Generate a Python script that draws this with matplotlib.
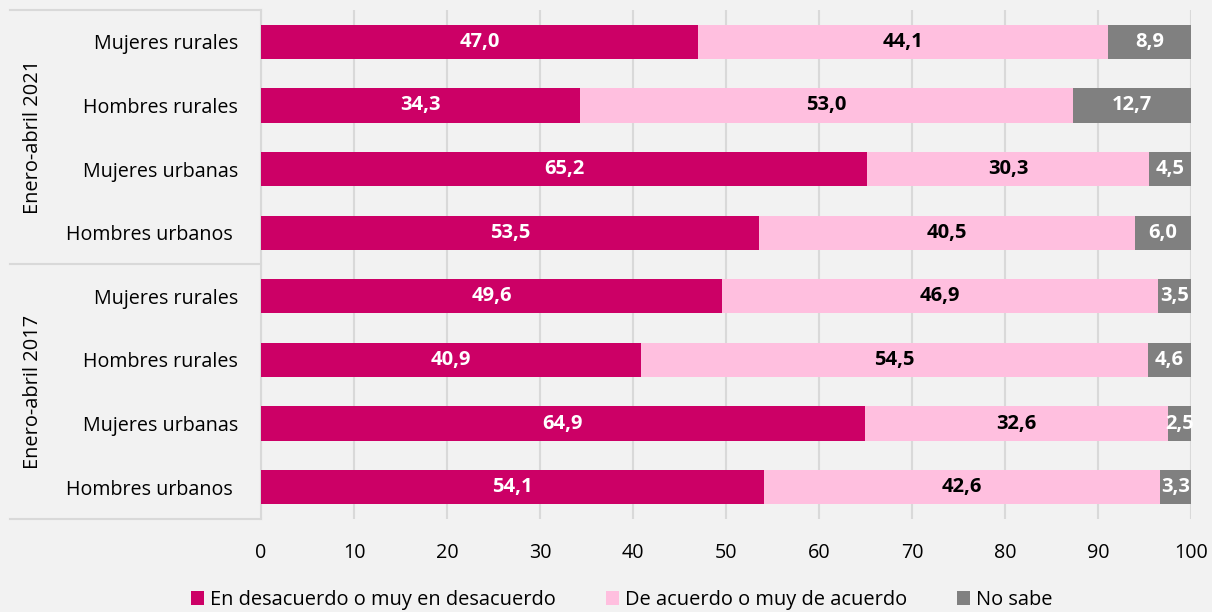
import matplotlib
matplotlib.use("Agg")
import matplotlib.pyplot as plt
from matplotlib.lines import Line2D
from matplotlib.patches import Patch

plt.rcParams['font.family'] = ['Open Sans', 'DejaVu Sans']

categories = ["Mujeres rurales", "Hombres rurales", "Mujeres urbanas", "Hombres urbanos ",
              "Mujeres rurales", "Hombres rurales", "Mujeres urbanas", "Hombres urbanos "]
groups = ["Enero-abril 2021", "Enero-abril 2017"]
desacuerdo = [47.0, 34.3, 65.2, 53.5, 49.6, 40.9, 64.9, 54.1]
acuerdo = [44.1, 53.0, 30.3, 40.5, 46.9, 54.5, 32.6, 42.6]
no_sabe = [8.9, 12.7, 4.5, 6.0, 3.5, 4.6, 2.5, 3.3]
series_names = ["En desacuerdo o muy en desacuerdo", "De acuerdo o muy de acuerdo", "No sabe"]
colors = ["#CC0066", "#FFBFDF", "#808080"]
text_colors = ["white", "black", "white"]

bg = "#F2F2F2"
fig = plt.figure(figsize=(12.12, 6.12), dpi=100, facecolor=bg)
ax = fig.add_axes([261/1212, 1 - 519/612, 930/1212, 509/612], facecolor=bg)

ypos = list(range(len(categories)))
lefts = [0.0] * len(categories)
for vals, col, tc in zip([desacuerdo, acuerdo, no_sabe], colors, text_colors):
    ax.barh(ypos, vals, left=lefts, height=0.54, color=col, zorder=3)
    for y, l, v in zip(ypos, lefts, vals):
        ax.text(l + v / 2, y, f"{v:.1f}".replace(".", ","), ha="center", va="center",
                color=tc, fontsize=14.5, fontweight="bold", zorder=4)
    lefts = [a + b for a, b in zip(lefts, vals)]

ax.set_xlim(0, 100)
ax.set_ylim(len(categories) - 0.5, -0.5)
ax.set_xticks(range(0, 101, 10))
ax.set_yticks(ypos)
ax.set_yticklabels(categories, fontsize=14.2)
ax.tick_params(axis="x", labelsize=14.2, length=0, pad=17)
ax.tick_params(axis="y", length=0, pad=16.5)
ax.xaxis.grid(True, color="#D9D9D9", linewidth=1.5, zorder=0)
for s in ["top", "right", "bottom"]:
    ax.spines[s].set_visible(False)
ax.spines["left"].set_color("#D9D9D9")
ax.spines["left"].set_linewidth(1.5)

# group separators and labels
x0 = 10 / 1212
x1 = 261 / 1212
for ypx in [10, 264, 519]:
    yf = 1 - ypx / 612
    fig.add_artist(Line2D([x0, x1], [yf, yf], color="#D9D9D9", linewidth=1.5))
for g, (ya, yb) in zip(groups, [(10, 264), (264, 519)]):
    fig.text(33 / 1212, 1 - (ya + yb) / 2 / 612, g, rotation=90, ha="center", va="center", fontsize=14.4)

handles = [Patch(facecolor=c, edgecolor="none") for c in colors]
fig.legend(handles, series_names, loc="center", bbox_to_anchor=(622 / 1212, 1 - 600 / 612), ncol=3,
           frameon=False, fontsize=14.4, handlelength=0.65, handleheight=0.65, handletextpad=0.3,
           columnspacing=2.5)

fig.savefig("out.png", dpi=100, facecolor=bg)
